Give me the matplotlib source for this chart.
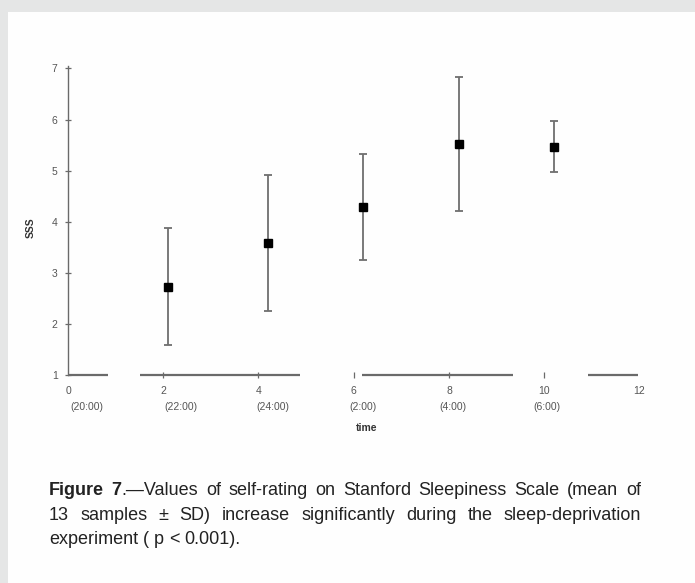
import matplotlib
matplotlib.use("Agg")
import matplotlib.pyplot as plt
from matplotlib.patches import Rectangle

# ---- data -------------------------------------------------------------
time_h = [2.1, 4.2, 6.2, 8.2, 10.2]          # hours since start of experiment
sss_mean = [2.73, 3.58, 4.29, 5.52, 5.47]     # Stanford Sleepiness Scale, mean
sss_sd = [1.15, 1.33, 1.04, 1.31, 0.50]       # standard deviation

tick_hours = [0, 2, 4, 6, 8, 10, 12]
tick_clock = ["(20:00)", "(22:00)", "(24:00)", "(2:00)", "(4:00)", "(6:00)", ""]
y_ticks = [1, 2, 3, 4, 5, 6, 7]

# pieces of the (broken) time axis, in hours
axis_segments = [(0, 0.84), (1.51, 4.87), (6.18, 9.35), (10.92, 11.97)]

caption_lines = [
    [[("Figure", "bold")], [("7", "bold"), (".\u2014Values", "normal")], [("of", "normal")],
     [("self-rating", "normal")], [("on", "normal")], [("Stanford", "normal")],
     [("Sleepiness", "normal")], [("Scale", "normal")], [("(mean", "normal")], [("of", "normal")]],
    [[(w, "normal")] for w in "13 samples \u00b1 SD) increase significantly during the sleep-deprivation".split()],
    [[(w, "normal")] for w in "experiment ( p < 0.001).".split()],
]

# ---- figure -----------------------------------------------------------
W, H = 695, 583
fig = plt.figure(figsize=(W / 100, H / 100), dpi=100, facecolor="#fefefe")

# light grey frame along the top and left edge
fig.patches.append(Rectangle((0, 1 - 12 / H), 1, 12 / H, transform=fig.transFigure,
                             facecolor="#e5e6e6", edgecolor="none", zorder=0))
fig.patches.append(Rectangle((0, 0), 8 / W, 1, transform=fig.transFigure,
                             facecolor="#e5e6e6", edgecolor="none", zorder=0))

chart_font = "Liberation Sans"
axis_grey = "#6a6a6a"
label_grey = "#555555"

ax = fig.add_axes([68 / W, (H - 375) / H, 581 / W, 311.7 / H])
ax.set_facecolor("none")
ax.set_xlim(0, 12.2)
ax.set_ylim(1, 7.1)

for side in ("top", "right", "bottom"):
    ax.spines[side].set_visible(False)
ax.spines["left"].set_bounds(1, 7.05)
ax.spines["left"].set_color(axis_grey)
ax.spines["left"].set_linewidth(1.0)

for x0, x1 in axis_segments:
    ax.plot([x0, x1], [1, 1], color=axis_grey, lw=1.6, solid_capstyle="butt",
            clip_on=False, zorder=2)

ax.errorbar(time_h, sss_mean, yerr=sss_sd, fmt="s", color="black", markersize=5.5,
            ecolor="#6f6f6f", elinewidth=1.3, capsize=3.2, capthick=1.3, zorder=3)

# y axis
ax.set_yticks(y_ticks)
ax.set_yticklabels([str(v) for v in y_ticks], fontfamily=chart_font, fontsize=7.5,
                   color=label_grey)
ax.tick_params(axis="y", direction="inout", length=5, width=0.9, color=axis_grey, pad=5)

# x axis
ax.set_xticks(tick_hours)
ax.set_xticklabels([str(v) for v in tick_hours], fontfamily=chart_font, fontsize=7.5,
                   color=label_grey)
ax.tick_params(axis="x", direction="inout", length=4.5, width=0.9, color=axis_grey, pad=6)
major = ax.xaxis.get_major_ticks()
for t in (major[0], major[-1]):
    t.tick1line.set_visible(False)

clock_shift = [0.40, 0.38, 0.31, 0.20, 0.09, 0.06, 0.0]
for h, lab, dx in zip(tick_hours, tick_clock, clock_shift):
    if lab:
        ax.annotate(lab, xy=(h + dx, 1), xycoords="data", xytext=(0, -23),
                    textcoords="offset points", ha="center", va="center",
                    fontfamily=chart_font, fontsize=7.5, color=label_grey,
                    annotation_clip=False)

ax.annotate("time", xy=(6.28, 1), xycoords="data", xytext=(0, -38),
            textcoords="offset points", ha="center", va="center",
            fontfamily=chart_font, fontsize=7.5, fontweight="bold", color="#333333",
            annotation_clip=False)

fig.text(31 / W, 1 - 228 / H, "SSS", rotation=90, ha="center", va="center",
         fontfamily=chart_font, fontsize=7.5, fontweight="bold", color="#333333")

# ---- caption (justified) ---------------------------------------------
cap_font = "Liberation Sans"
cap_size = 13
cap_color = "#222222"
left_px, right_px = 49, 641
baselines = [495, 519.5, 544]

fig.canvas.draw()
renderer = fig.canvas.get_renderer()


def text_width(s, weight="normal"):
    t = fig.text(0, 0, s, fontfamily=cap_font, fontsize=cap_size, fontweight=weight)
    w = t.get_window_extent(renderer=renderer).width
    t.remove()
    return w


def place_line(words, baseline_px, justify):
    y = 1 - baseline_px / H
    objs, widths = [], []
    for word in words:
        segs, w_total = [], 0.0
        for txt, weight in word:
            t = fig.text(0, y, txt, ha="left", va="baseline", fontfamily=cap_font,
                         fontsize=cap_size, fontweight=weight, color=cap_color)
            sw = t.get_window_extent(renderer=renderer).width
            segs.append((t, sw))
            w_total += sw
        objs.append(segs)
        widths.append(w_total)
    natural = text_width("a a") - text_width("aa")
    if justify and len(words) > 1:
        gap = (right_px - left_px - sum(widths)) / (len(words) - 1)
    else:
        gap = natural
    x = left_px
    for segs, w in zip(objs, widths):
        cx = x
        for t, sw in segs:
            t.set_x(cx / W)
            cx += sw
        x += w + gap


for i, (words, base) in enumerate(zip(caption_lines, baselines)):
    place_line(words, base, justify=(i < len(caption_lines) - 1))

fig.savefig("out.png", dpi=100, facecolor=fig.get_facecolor())
